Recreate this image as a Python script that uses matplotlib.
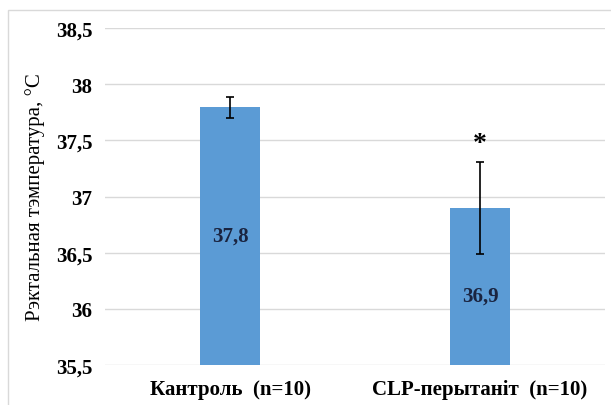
import matplotlib.pyplot as plt
from matplotlib.ticker import FuncFormatter
from matplotlib.patches import Rectangle

groups = ["Кантроль  (n=10)", "CLP-перытаніт  (n=10)"]
means = [37.8, 36.9]
err_lo = [0.1, 0.41]
err_hi = [0.09, 0.41]
value_labels = ["37,8", "36,9"]
label_y = [36.65, 36.12]
marks = ["", "*"]
mark_y = [None, 37.47]

plt.rcParams['font.family'] = ['Liberation Serif', 'DejaVu Serif']

fig = plt.figure(figsize=(6.11, 4.06), dpi=100)
ax = fig.add_axes([0.172, 0.0985, 0.818, 0.83])

x = [0, 1]
ax.bar(x, means, width=0.24, color="#5b9bd5", zorder=2)
ax.errorbar(x, means, yerr=[err_lo, err_hi], fmt="none", ecolor="black",
            elinewidth=1.2, capsize=3, capthick=1.2, zorder=3)

for xi, lab, ly in zip(x, value_labels, label_y):
    ax.text(xi, ly, lab, ha="center", va="center", fontsize=15,
            fontweight="bold", color="#1a2440", zorder=4)

for xi, m, my in zip(x, marks, mark_y):
    if m:
        ax.text(xi, my, m, ha="center", va="center", fontsize=20,
                fontweight="bold", color="black")

ax.set_ylim(35.5, 38.5)
ax.set_xlim(-0.5, 1.5)
ax.set_yticks([35.5, 36, 36.5, 37, 37.5, 38, 38.5])
ax.yaxis.set_major_formatter(FuncFormatter(lambda v, p: f"{v:g}".replace(".", ",")))
ax.set_xticks(x)
ax.set_xticklabels(groups)
ax.tick_params(axis="y", length=0, labelsize=15, pad=9)
ax.tick_params(axis="x", length=0, labelsize=15, pad=10)
for t in ax.get_xticklabels() + ax.get_yticklabels():
    t.set_fontweight("bold")
ax.yaxis.grid(True, color="#d9d9d9", linewidth=1, zorder=0)
for s in ax.spines.values():
    s.set_visible(False)

ax.set_ylabel("Рэктальная тэмпература, °С", fontsize=15, labelpad=8)

fig.patches.append(Rectangle((8 / 611, -0.1), 1.2, 1 - 11 / 406 + 0.1,
                             transform=fig.transFigure, fill=False,
                             edgecolor="#d9d9d9", linewidth=1))

fig.savefig("out.png", dpi=100)
